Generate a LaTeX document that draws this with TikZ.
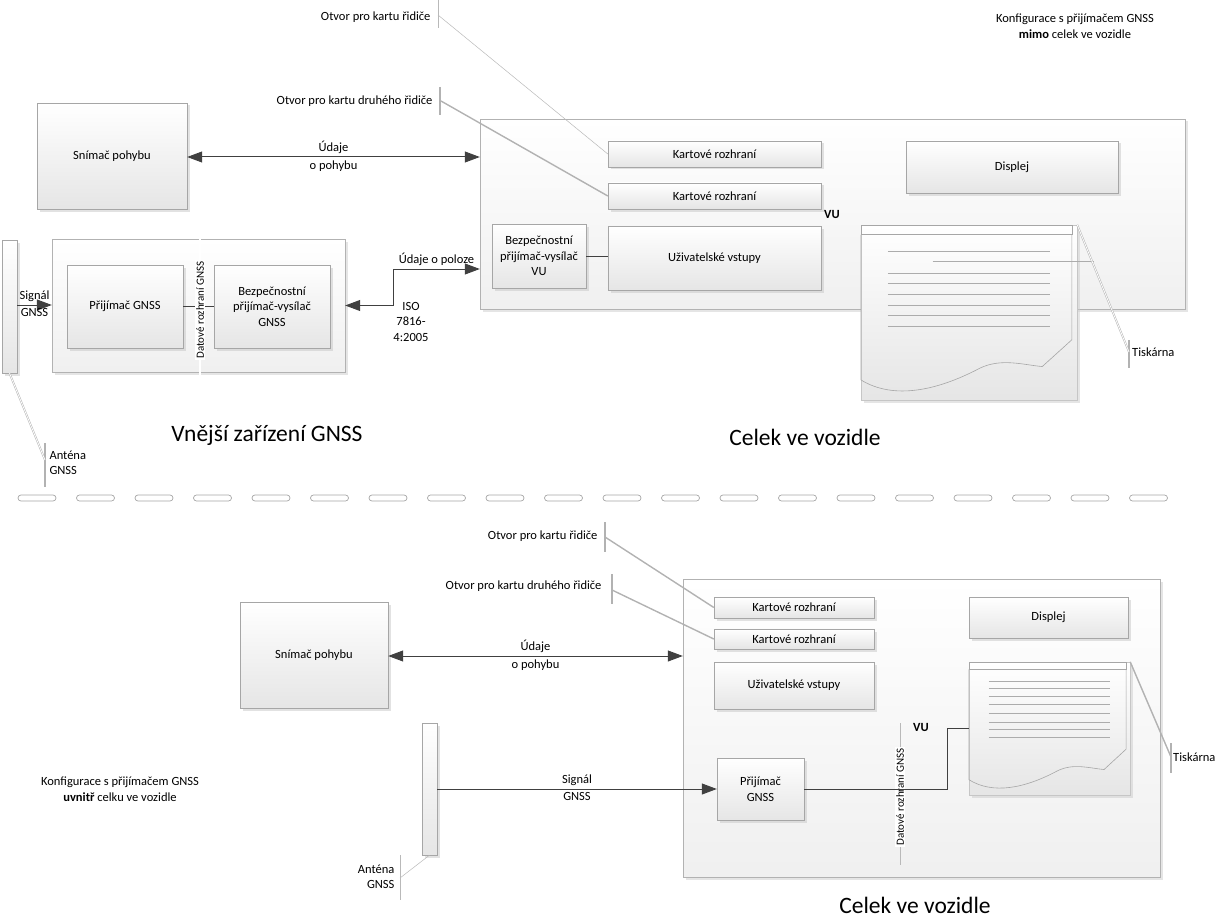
\documentclass[tikz,border=0pt]{standalone}
\usepackage{fontspec}
\setmainfont{Carlito}
\usetikzlibrary{arrows.meta,shadows,positioning}

% paper sheet inside a printer, drawn in unit coordinates
\newcommand{\papir}{%
  \draw[paperline] (0,0) rectangle (0.977,0.057);
  \draw[paperline] (0,0.057) -- (0,0.886)
    .. controls (0.15,1.0) and (0.35,0.95) .. (0.55,0.82)
    .. controls (0.65,0.76) and (0.75,0.80) .. (0.84,0.81)
    -- (0.977,0.657) -- (0.977,0.057);
}

\begin{document}
\begin{tikzpicture}[x=1pt, y=-1pt, font=\fontsize{12.5}{15.5}\selectfont,
  >={Triangle[length=15pt, width=11pt]},
  box/.style = {draw=gray!70, top color=white, bottom color=black!10, inner sep=0pt, align=center,
    drop shadow={shadow xshift=2.5pt, shadow yshift=-2.5pt, fill=gray!45}},
  unit/.style = {draw=gray!60, top color=white, bottom color=black!6, inner sep=0pt,
    drop shadow={shadow xshift=2.5pt, shadow yshift=-2.5pt, fill=gray!40}},
  printer/.style = {draw=gray!45, top color=white, bottom color=black!10, inner sep=0pt,
    drop shadow={shadow xshift=2.5pt, shadow yshift=-3pt, fill=gray!40}},
  paperline/.style = {draw=gray!70, line width=0.6pt},
  printline/.style = {draw=gray!65, line width=1.1pt},
  arr/.style = {draw=black!75, line width=1pt},
  leader/.style = {draw=gray!60, line width=1.4pt},
  thinleader/.style = {draw=gray!55, line width=0.5pt},
  bar/.style = {draw=gray!60, line width=1.4pt},
  iface/.style = {rotate=90, fill=white, inner sep=1pt, font=\fontsize{11}{13}\selectfont},
  big/.style = {font=\fontsize{23.5}{28}\selectfont},
  capsule/.style = {draw=gray!70, fill=white, line width=0.7pt, rounded corners=3pt}]

\useasboundingbox (0,0) rectangle (1216,915);

% ---------- upper configuration ----------
\node[anchor=center, align=center] (konf1) at (1075,26) {Konfigurace s přijímačem GNSS\\\textbf{mimo} celek ve vozidle};

\node[box, minimum width=150, minimum height=106] (snim1) at (112,156) {Snímač pohybu};
\node[unit, minimum width=705, minimum height=190] (vu1) at (832.5,214) {};
\node[box, minimum width=213, minimum height=26] (kr1) at (714.5,154) {Kartové rozhraní};
\node[box, minimum width=213, minimum height=26] (kr2) at (714.5,196) {Kartové rozhraní};
\node[box, minimum width=213, minimum height=64] (uziv1) at (714.5,258) {Uživatelské vstupy};
\node[box, minimum width=94, minimum height=64] (bezvu) at (539,256) {Bezpečnostní\\přijímač-vysílač\\VU};
\node[box, minimum width=212, minimum height=52] (disp1) at (1012,167) {Displej};
\node[font=\fontsize{12.5}{15}\bfseries] (vulbl1) at (832,214) {VU};
\node[printer, minimum width=216, minimum height=175] (prn1) at (969,312.5) {};
\begin{scope}[shift={(prn1.north west)}, x=216pt, y=-175pt]
  \papir
  \foreach \yy in {0.154,0.28,0.337,0.4,0.463,0.52,0.583}
    \draw[printline] (0.125,\yy) -- (0.875,\yy);
  \draw[printline] (0.333,0.211) -- (1.08,0.211);
\end{scope}

\node[unit, minimum width=293, minimum height=133] (ext) at (198.5,305.5) {};
\node[box, minimum width=116, minimum height=83] (prij1) at (125,306.5) {Přijímač GNSS};
\node[box, minimum width=116, minimum height=83] (bezg) at (272,306.5) {Bezpečnostní\\přijímač-vysílač\\GNSS};
\node[box, minimum width=15, minimum height=133] (ant1) at (9.5,306.5) {};

\draw[arr] (prij1.east) -- (bezg.west);
\draw[gray!60, double=white, double distance=1.2pt, line width=0.5pt] (200,228) -- (200,398);
\node[iface] (dat1) at (200,310) {Datové rozhraní GNSS};

\draw[arr, <->] (snim1.east |- 0,157) -- node[above] {Údaje} node[below] {o pohybu} (vu1.west |- 0,157);
\draw[arr, <->] (ext.east) -- ++(48,0) |- node[pos=0.75, above] {Údaje o poloze} ([yshift=-55pt]vu1.west);
\node[align=center] (iso) at (411,321.5) {ISO\\7816-\\4:2005};
\draw[arr, ->] (ant1.east |- 0,305) -- node[above] {Signál} node[below] {GNSS} (ext.west |- 0,305);
\draw[arr] (bezvu.east) -- (uziv1.west |- bezvu.east);

% labels with leader lines
\node[anchor=east] (otv1) at (434,17) {Otvor pro kartu řidiče};
\draw[thinleader] (438,0) -- (438,28);
\draw[thinleader] (438,15) -- (kr1.west);
\node[anchor=east] (otv2) at (436,101) {Otvor pro kartu druhého řidiče};
\draw[bar] (440,87) -- (440,115);
\draw[leader] (441,101) -- (kr2.west);
\node[anchor=west, inner sep=1pt] (tisk1) at (1131,352) {Tiskárna};
\draw[bar] (1129,340) -- (1129,368);
\draw[gray!60, double=white, double distance=0.8pt, line width=0.5pt] (prn1.north east) -- (1129,352);
\node[anchor=west, align=left] (antl1) at (46,463) {Anténa\\GNSS};
\draw[bar] (45,443) -- (45,487);
\draw[gray!60, double=white, double distance=0.8pt, line width=0.5pt] (ant1.south) -- (45,460);

\node[big] (vnejsi) at (267,435) {Vnější zařízení GNSS};
\node[big] (celek1) at (805,437) {Celek ve vozidle};

% ---------- divider ----------
\foreach \i in {0,...,19}
  \draw[capsule] ({18+58.5*\i},495) rectangle ++(38,6);

% ---------- lower configuration ----------
\node[align=center] (konf2) at (120,789) {Konfigurace s přijímačem GNSS\\\textbf{uvnitř} celku ve vozidle};

\node[box, minimum width=148, minimum height=106] (snim2) at (314,655) {Snímač pohybu};
\node[unit, minimum width=477, minimum height=298] (vu2) at (921.5,728) {};
\node[box, minimum width=160, minimum height=21] (kr3) at (794,607.5) {Kartové rozhraní};
\node[box, minimum width=160, minimum height=20] (kr4) at (794,639) {Kartové rozhraní};
\node[box, minimum width=160, minimum height=47] (uziv2) at (794,685.5) {Uživatelské vstupy};
\node[box, minimum width=159, minimum height=41] (disp2) at (1048.5,617.5) {Displej};
\node[box, minimum width=87, minimum height=62] (prij2) at (760.5,789) {Přijímač\\GNSS};
\node[font=\fontsize{12.5}{15}\bfseries] (vulbl2) at (921,727) {VU};
\node[printer, minimum width=161, minimum height=133] (prn2) at (1049.5,728.5) {};
\begin{scope}[shift={(prn2.north west)}, x=161pt, y=-133pt]
  \papir
  \foreach \yy in {0.15,0.2,0.26,0.32,0.39,0.455,0.51,0.57}
    \draw[printline] (0.124,\yy) -- (0.876,\yy);
\end{scope}
\node[box, minimum width=15, minimum height=132] (ant2) at (429.5,789) {};

\draw[thinleader] (900,723) -- (900,865);
\node[iface] (dat2) at (900,797) {Datové rozhraní GNSS};

\draw[arr, <->] (snim2.east |- 0,656) -- node[above] {Údaje} node[below] {o pohybu} (vu2.west |- 0,656);
\draw[arr, ->] (ant2.east) -- node[above] {Signál} node[below] {GNSS} (prij2.west);
\draw[arr] (prij2.east) -- ++(143,0) |- (prn2.west);

\node[anchor=east] (otv3) at (601,536) {Otvor pro kartu řidiče};
\draw[bar] (605,522) -- (605,552);
\draw[leader] (605,537) -- (kr3.west);
\node[anchor=east] (otv4) at (605,586) {Otvor pro kartu druhého řidiče};
\draw[bar] (612,574) -- (612,604);
\draw[leader] (612,590) -- (kr4.west);
\node[anchor=west, inner sep=1pt] (tisk2) at (1172,757) {Tiskárna};
\draw[bar] (1171,743) -- (1171,773);
\draw[leader] (prn2.north east) -- (1171,757);
\node[anchor=east, align=right] (antl2) at (398,877) {Anténa\\GNSS};
\draw[thinleader] (400,855) -- (400,900);
\draw[thinleader] (ant2.south) -- (400,878);

\node[big] (celek2) at (915,905) {Celek ve vozidle};
\end{tikzpicture}
\end{document}
